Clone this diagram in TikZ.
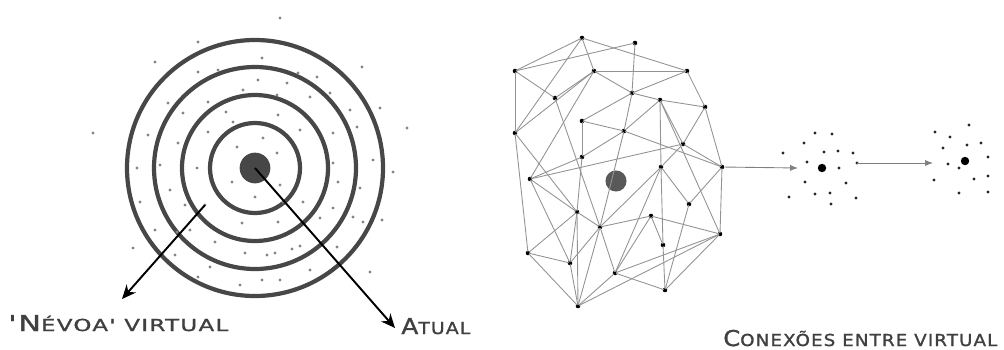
\documentclass[tikz,border=0pt]{standalone}
\usepackage{fontspec}
\usetikzlibrary{arrows.meta}
\newfontfamily\lblfont[LetterSpace=6,FakeBold=1.2]{DejaVu Sans}
\newcommand{\Bg}[1]{{\fontsize{12.4}{14}\selectfont #1}}
\newcommand{\Sm}[1]{{\fontsize{9.4}{11}\selectfont #1}}
\newcommand{\fitw}[2]{\resizebox{#1}{\height}{\lblfont #2}}
\definecolor{ringc}{HTML}{474747}
\definecolor{fogc}{HTML}{858585}
\definecolor{edgec}{HTML}{939393}
\definecolor{txtc}{HTML}{404040}
\begin{document}
\begin{tikzpicture}[x=0.02cm,y=-0.02cm,
  ring/.style={draw=ringc,line width=2.4pt},
  fog/.style={fill=fogc},
  bigarrow/.style={draw=black,line width=1.1pt,-{Stealth[length=8pt,width=7pt]}},
  nd/.style={circle,fill=black,inner sep=0pt,minimum size=2.6pt},
  edge/.style={draw=edgec,line width=0.5pt,shorten >=-0.8pt,shorten <=-0.8pt},
  link/.style={draw=gray,line width=0.5pt,-{Latex[length=4.5pt,width=3.5pt]}},
  cd/.style={fill=black!85},
  lbl/.style={text=txtc,inner sep=0pt,anchor=base west}]
\useasboundingbox (0,0) rectangle (1004,349);
% ---------- left: rings ----------
\foreach \r in {45,73,101,128} \draw[ring] (255,168) circle[radius=\r];
\node[circle,fill=ringc,inner sep=0pt,minimum size=17.5pt] (c) at (255,168) {};
\foreach \p in {(280,18),(198,42),(155,62),(262,58),(362,67),(198,72),(243,90),(258,80),(287,83),(298,73),(317,77),
 (277,95),(310,97),(330,93),(168,103),(183,113),(208,102),(233,122),(278,115),(350,110),(380,108),(93,133),(148,135),
 (208,132),(333,133),(357,127),(407,128),(178,143),(237,147),(263,138),(277,153),(137,168),(197,168),(232,182),(280,185),
 (333,163),(373,160),(393,172),(170,190),(338,182),(360,188),(140,202),(185,205),(255,197),(283,202),(303,202),
 (333,208),(353,217),(363,222),(382,220),(155,230),(177,232),(190,230),(242,223),(278,222),(320,218),(133,248),(215,242),
 (245,253),(267,255),(275,253),(292,249),(300,246),(337,247),(175,255),(198,277),(210,267),(240,285),(262,280),(280,280),
 (310,270),(370,272),(218,70),(226,112),(300,130),(160,165)}
  \fill[fog] \p circle[radius=1.7];
\coordinate (vstart) at (205,205);
\fill[fog] (vstart) circle[radius=1.7];
\coordinate (vtip) at (122,299);
\coordinate (atip) at (395,328);
\draw[bigarrow] (vstart) -- (vtip);
\draw[bigarrow] (c.center) -- (atip);
\node[lbl] (tv) at (8,331) {\fitw{4.4cm}{\Bg{'N}\Sm{ÉVOA' VIRTUAL}}};
\node[lbl] (ta) at (401,334) {\fitw{1.38cm}{\Bg{A}\Sm{TUAL}}};
% ---------- right: network ----------
\node[circle,fill=ringc!90,inner sep=0pt,minimum size=12pt] (g) at (616,181) {};
\foreach \n/\x/\y in {1/582/38,2/635/43,3/515/71,4/594/71,5/687/71,6/555/98,7/632/93,8/660/100,9/705/107,
 10/515/133,11/582/121,12/624/131,13/683/144,14/582/157,15/530/179,16/661/167,17/722/167,18/577/212,19/689/204,
 20/600/227,21/651/216,22/720/234,23/528/253,24/570/263,25/663/245,26/615/273,27/665/290,28/578/306}
  \node[nd] (n\n) at (\x,\y) {};
\foreach \a/\b in {1/3,1/4,1/5,1/10,2/3,2/7,3/6,3/10,4/5,4/6,4/7,4/10,4/15,5/7,5/9,6/20,7/8,7/11,7/12,
 8/9,8/12,8/13,8/16,8/22,9/13,9/17,10/18,10/23,11/12,11/14,14/18,12/14,12/17,12/20,13/16,13/17,15/13,15/14,
 15/18,15/24,16/19,16/20,16/25,16/26,17/19,17/22,19/27,20/21,20/18,20/24,20/26,20/28,18/24,18/23,18/28,
 21/22,21/25,21/26,22/26,22/27,22/28,23/24,23/28,24/28,25/27,26/27,26/28}
  \draw[edge] (n\a) -- (n\b);
% ---------- clusters ----------
\node[circle,fill=black,inner sep=0pt,minimum size=4.8pt] (c1) at (822,168) {};
\node[circle,fill=black,inner sep=0pt,minimum size=4.8pt] (c2) at (965,161) {};
\foreach \p in {(815,133),(832,134),(804,143),(783,153),(824,152),(838,151),(853,153),(807,162),(839,168),
 (805,182),(846,183),(789,197),(815,194),(830,193),(856,198),(831,204),
 (969,125),(935,132),(950,137),(967,145),(981,143),(943,148),(988,157),(948,164),(959,168),(934,180),
 (974,179),(988,176),(959,193),(988,192)}
  \fill[cd] \p circle[radius=1.6];
\coordinate (k1s) at (857,163);
\fill[cd] (k1s) circle[radius=1.6];
\coordinate (k1t) at (798,168);
\coordinate (k2t) at (933,163);
\draw[link] (n17) -- (k1t);
\draw[link] (k1s) -- (k2t);
\node[lbl] (tc) at (723,346) {\fitw{5.48cm}{\Bg{C}\Sm{ONEXÕES ENTRE VIRTUAL}}};
\end{tikzpicture}
\end{document}
